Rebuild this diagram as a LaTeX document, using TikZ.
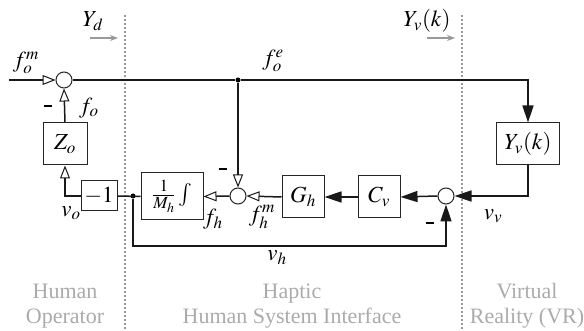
\documentclass[tikz,border=0pt]{standalone}
\usepackage{mathptmx}
\usepackage{fontspec}
\setmainfont{Liberation Serif}
\usetikzlibrary{arrows.meta,positioning,calc}
\begin{document}
\begin{tikzpicture}[x=1pt,y=-1pt,
  sig/.style={line width=1.5pt,black!90},
  blk/.style={draw=black!85,line width=1pt,minimum width=#1,inner sep=0pt,font=\fontsize{23}{25}\selectfont},
  sumc/.style={circle,draw=black!85,line width=1pt,minimum size=16pt,inner sep=0pt},
  oarr/.style={-{Triangle[open,length=13pt,width=10pt,line width=1pt]}},
  farr/.style={-{Triangle[length=17pt,width=11pt]}},
  lbl/.style={font=\fontsize{23}{25}\selectfont,inner sep=0pt},
  minus/.style={inner sep=0pt},
  zone/.style={text=black!33,align=center,font=\fontsize{22}{25}\selectfont},
  div/.style={draw=black!40,line width=2pt,dash pattern=on 2pt off 2pt},
  garr/.style={draw=black!40,line width=1.3pt,-{Stealth[length=8pt,width=6pt]}}
]
\useasboundingbox (0,0) rectangle (584,331);
% dividers
\coordinate (d1t) at (125,15); \coordinate (d1b) at (125,331);
\coordinate (d2t) at (462,15); \coordinate (d2b) at (462,331);
\draw[div] (d1t) -- (d1b);
\draw[div] (d2t) -- (d2b);
% blocks
\node[sumc] (s1) at (64,80) {};
\node[blk=44pt,minimum height=42pt] (zo) at (65,144) {$Z_o$};
\node[blk=36pt,minimum height=30pt] (m1) at (99,196) {$-1$};
\node[blk=62pt,minimum height=47pt] (int) at (172,196.5) {$\frac{1}{M_h}\int$};
\node[sumc] (s2) at (238,196) {};
\node[blk=42pt,minimum height=42pt] (gh) at (303,197) {$G_h$};
\node[blk=42pt,minimum height=42pt] (cv) at (379,197) {$C_v$};
\node[sumc] (s3) at (446,196) {};
\node[blk=63pt,minimum height=42pt] (yv) at (528,144) {$Y_v(k)$};
\node[circle,fill=black,inner sep=0pt,minimum size=5pt] (j1) at (238,80) {};
\node[circle,fill=black,inner sep=0pt,minimum size=5pt] (j2) at (133,196) {};
\coordinate (in) at (9,80);
\coordinate (tr) at (528,80);
\coordinate (bot) at (133,246);
% connectors
\draw[sig,oarr] (in) -- (s1.west);
\draw[sig] (s1.east) -- (j1);
\draw[sig,farr] (j1) -- (tr) -- (yv.north);
\draw[sig,oarr] (j1) -- (s2.north);
\draw[sig,oarr] (zo.north) -- (s1.south);
\draw[sig,oarr] (m1.west) -| (zo.south);
\draw[sig] (m1.east) -- (int.west);
\draw[sig,farr] (j2) |- (bot) -| (s3.south);
\draw[sig,farr] (yv.south) |- (s3.east);
\draw[sig,farr] (s3.west) -- (cv.east);
\draw[sig,farr] (cv.west) -- (gh.east);
\draw[sig,oarr] (gh.west) -- (s2.east);
\draw[sig,oarr] (s2.west) -- (int.east);
% labels
\node[lbl] (lfom) at (26,63) {$f_o^m$};
\node[lbl] (lfo) at (89,108) {$f_o$};
\node[lbl] (lfoe) at (273,61) {$f_o^e$};
\node[lbl] (lvo) at (71,213) {$v_o$};
\node[lbl] (lfh) at (213,219) {$f_h$};
\node[lbl] (lfhm) at (262,217) {$f_h^m$};
\node[lbl] (lvv) at (493,216) {$v_v$};
\node[lbl] (lvh) at (277,258) {$v_h$};
\node[minus] (m1s) at (48,106) {\rule{8pt}{2pt}};
\node[minus] (m2s) at (223,169) {\rule{8pt}{2pt}};
\node[minus] (m3s) at (430,223) {\rule{8pt}{2pt}};
\node[lbl] (lyd) at (93,21) {$Y_d$};
\node[lbl] (lyv) at (427,21) {$Y_v(k)$};
\coordinate (ga1) at (90,38); \coordinate (ga2) at (118,38);
\coordinate (gb1) at (427,38); \coordinate (gb2) at (455,38);
\draw[garr] (ga1) -- (ga2);
\draw[garr] (gb1) -- (gb2);
\node[zone] (z1) at (65,306) {Human\\Operator};
\node[zone] (z2) at (292,306) {Haptic\\Human System Interface};
\node[zone] (z3) at (527,306) {Virtual\\Reality (VR)};
\end{tikzpicture}
\end{document}
